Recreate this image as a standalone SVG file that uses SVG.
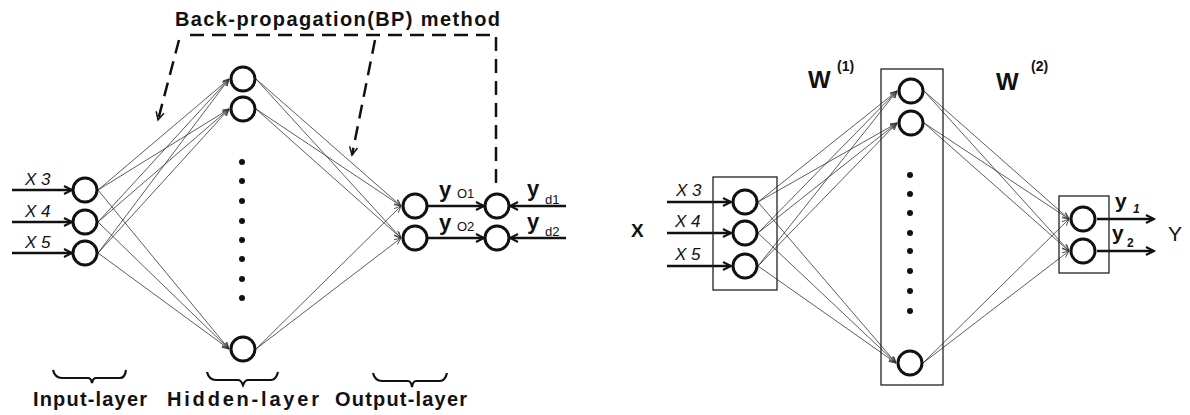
<svg xmlns="http://www.w3.org/2000/svg" width="1190" height="415" viewBox="0 0 1190 415">
<style>
.bg{fill:#ffffff}
.node{fill:#ffffff;stroke:#111;stroke-width:3}
.dot{fill:#111}
.conn{stroke:#333;stroke-width:0.8;fill:none;marker-end:url(#thin)}
.in{stroke:#111;stroke-width:2.5;fill:none;marker-end:url(#thick)}
.dash{stroke:#111;stroke-width:2.5;fill:none;stroke-dasharray:14 8}
.box{fill:none;stroke:#222;stroke-width:1.3}
.brace{fill:none;stroke:#111;stroke-width:2.2}
.lbl{font-family:"Liberation Sans",Arial,sans-serif;font-weight:bold;fill:#111}
.xi{font-family:"Liberation Sans",Arial,sans-serif;font-style:italic;font-size:17px;fill:#111}
.sub{font-family:"Liberation Sans",Arial,sans-serif;font-size:12px;fill:#111}
</style>
<defs>
<marker id="thin" markerUnits="userSpaceOnUse" markerWidth="8" markerHeight="8" refX="7" refY="3" orient="auto">
<path d="M0,0 L7,3 L0,6" fill="none" stroke="#333" stroke-width="0.8"/>
</marker>
<marker id="thick" markerUnits="userSpaceOnUse" markerWidth="12" markerHeight="12" refX="9" refY="5" orient="auto">
<path d="M1,1 L9,5 L1,9" fill="none" stroke="#111" stroke-width="2"/>
</marker>
<marker id="dashhead" markerUnits="userSpaceOnUse" markerWidth="12" markerHeight="12" refX="9" refY="5" orient="auto">
<path d="M1,1 L9,5 L1,9" fill="none" stroke="#111" stroke-width="1.5"/>
</marker>
</defs>
<rect class="bg" x="0" y="0" width="1190" height="415"/>

<g id="connectors">
<line class="conn" x1="98" y1="190" x2="229" y2="79"/>
<line class="conn" x1="98" y1="190" x2="229" y2="109"/>
<line class="conn" x1="98" y1="190" x2="229" y2="349"/>
<line class="conn" x1="98" y1="222" x2="229" y2="79"/>
<line class="conn" x1="98" y1="222" x2="229" y2="109"/>
<line class="conn" x1="98" y1="222" x2="229" y2="349"/>
<line class="conn" x1="98" y1="253" x2="229" y2="79"/>
<line class="conn" x1="98" y1="253" x2="229" y2="109"/>
<line class="conn" x1="98" y1="253" x2="229" y2="349"/>
<line class="conn" x1="256" y1="79" x2="401" y2="206"/>
<line class="conn" x1="256" y1="79" x2="401" y2="238"/>
<line class="conn" x1="256" y1="109" x2="401" y2="206"/>
<line class="conn" x1="256" y1="109" x2="401" y2="238"/>
<line class="conn" x1="256" y1="349" x2="401" y2="206"/>
<line class="conn" x1="256" y1="349" x2="401" y2="238"/>
<line class="in" x1="12" y1="190" x2="72" y2="190"/>
<line class="in" x1="12" y1="222" x2="72" y2="222"/>
<line class="in" x1="12" y1="253" x2="72" y2="253"/>
<line class="in" x1="428" y1="206" x2="484" y2="206"/>
<line class="in" x1="428" y1="238" x2="484" y2="238"/>
<line class="in" x1="566" y1="206" x2="510" y2="206"/>
<line class="in" x1="566" y1="238" x2="510" y2="238"/>
<path class="dash" d="M496,183 V35 H183"/>
<line class="dash" x1="179" y1="40" x2="158" y2="120" marker-end="url(#dashhead)"/>
<line class="dash" x1="375" y1="40" x2="352" y2="155" marker-end="url(#dashhead)"/>
<line class="conn" x1="758" y1="202" x2="897" y2="91"/>
<line class="conn" x1="758" y1="202" x2="897" y2="123"/>
<line class="conn" x1="758" y1="202" x2="896" y2="363"/>
<line class="conn" x1="758" y1="233" x2="897" y2="91"/>
<line class="conn" x1="758" y1="233" x2="897" y2="123"/>
<line class="conn" x1="758" y1="233" x2="896" y2="363"/>
<line class="conn" x1="758" y1="266" x2="897" y2="91"/>
<line class="conn" x1="758" y1="266" x2="897" y2="123"/>
<line class="conn" x1="758" y1="266" x2="896" y2="363"/>
<line class="conn" x1="924" y1="91" x2="1069" y2="219"/>
<line class="conn" x1="924" y1="91" x2="1069" y2="251"/>
<line class="conn" x1="924" y1="123" x2="1069" y2="219"/>
<line class="conn" x1="924" y1="123" x2="1069" y2="251"/>
<line class="conn" x1="923" y1="363" x2="1069" y2="219"/>
<line class="conn" x1="923" y1="363" x2="1069" y2="251"/>
<line class="in" x1="667" y1="202" x2="731" y2="202"/>
<line class="in" x1="667" y1="233" x2="731" y2="233"/>
<line class="in" x1="667" y1="266" x2="731" y2="266"/>
<line class="in" x1="1097" y1="219" x2="1154" y2="219"/>
<line class="in" x1="1097" y1="251" x2="1154" y2="251"/>
</g>

<text class="lbl" x="175" y="26" font-size="20" textLength="325" lengthAdjust="spacing">Back-propagation(BP) method</text>

<g id="in3"><circle class="node" cx="85" cy="190" r="12"/><text class="xi" x="25" y="185">X 3</text></g>
<g id="in4"><circle class="node" cx="85" cy="222" r="12"/><text class="xi" x="25" y="217">X 4</text></g>
<g id="in5"><circle class="node" cx="85" cy="253" r="12"/><text class="xi" x="25" y="248">X 5</text></g>

<g id="h1"><circle class="node" cx="243" cy="79" r="12"/></g>
<g id="h2"><circle class="node" cx="243" cy="109" r="12"/></g>
<g id="hdots">
<circle class="dot" cx="242" cy="162" r="3"/>
<circle class="dot" cx="242" cy="181" r="3"/>
<circle class="dot" cx="242" cy="201" r="3"/>
<circle class="dot" cx="242" cy="221" r="3"/>
<circle class="dot" cx="242" cy="240" r="3"/>
<circle class="dot" cx="242" cy="259" r="3"/>
<circle class="dot" cx="242" cy="279" r="3"/>
<circle class="dot" cx="242" cy="298" r="3"/>
</g>
<g id="h3"><circle class="node" cx="243" cy="349" r="12"/></g>

<g id="o1"><circle class="node" cx="415" cy="206" r="12"/>
<text class="lbl" x="439" y="197" font-size="22">y</text><text class="sub" x="457" y="198" font-size="13" style="font-size:13px">O1</text></g>
<g id="o2"><circle class="node" cx="415" cy="238" r="12"/>
<text class="lbl" x="439" y="230" font-size="22">y</text><text class="sub" x="457" y="231" style="font-size:13px">O2</text></g>
<g id="c1"><circle class="node" cx="497" cy="206" r="12"/>
<text class="lbl" x="527" y="196" font-size="22">y</text><text class="sub" x="545" y="204" style="font-size:13px">d1</text></g>
<g id="c2"><circle class="node" cx="497" cy="238" r="12"/>
<text class="lbl" x="527" y="229" font-size="22">y</text><text class="sub" x="545" y="236" style="font-size:13px">d2</text></g>

<g id="braces">
<path class="brace" d="M53,370 Q55,378 62,378 H88 Q91,378 92,383 Q93,378 96,378 H120 Q125,378 126,370"/>
<path class="brace" d="M207,372 Q209,380 216,380 H238 Q241,380 243,385 Q245,380 248,380 H271 Q276,380 278,372"/>
<path class="brace" d="M373,373 Q375,381 382,381 H408 Q411,381 412,387 Q413,381 416,381 H440 Q445,381 447,373"/>
</g>
<text class="lbl" x="33" y="406" font-size="20" textLength="114" lengthAdjust="spacing">Input-layer</text>
<text class="lbl" x="167" y="406" font-size="20" textLength="152" lengthAdjust="spacing">Hidden-layer</text>
<text class="lbl" x="335" y="406" font-size="20" textLength="132" lengthAdjust="spacing">Output-layer</text>

<text class="lbl" x="631" y="237" font-size="19">X</text>
<rect class="box" x="713" y="177" width="64" height="113"/>
<g id="r_in3"><circle class="node" cx="745" cy="202" r="12"/><text class="xi" x="676" y="196">X 3</text></g>
<g id="r_in4"><circle class="node" cx="745" cy="233" r="12"/><text class="xi" x="675" y="227">X 4</text></g>
<g id="r_in5"><circle class="node" cx="745" cy="266" r="12"/><text class="xi" x="675" y="260">X 5</text></g>

<text class="lbl" x="808" y="88" font-size="24">W</text>
<text class="lbl" x="837" y="71" font-size="14">(1)</text>
<text class="lbl" x="996" y="90" font-size="24">W</text>
<text class="lbl" x="1031" y="71" font-size="14">(2)</text>

<rect class="box" x="881" y="69" width="62" height="316"/>
<g id="r_h1"><circle class="node" cx="911" cy="91" r="12"/></g>
<g id="r_h2"><circle class="node" cx="911" cy="123" r="12"/></g>
<g id="r_hdots">
<circle class="dot" cx="910" cy="175" r="3"/>
<circle class="dot" cx="910" cy="194" r="3"/>
<circle class="dot" cx="910" cy="213" r="3"/>
<circle class="dot" cx="910" cy="233" r="3"/>
<circle class="dot" cx="910" cy="251" r="3"/>
<circle class="dot" cx="910" cy="271" r="3"/>
<circle class="dot" cx="910" cy="291" r="3"/>
<circle class="dot" cx="910" cy="311" r="3"/>
</g>
<g id="r_h3"><circle class="node" cx="910" cy="363" r="12"/></g>

<rect class="box" x="1059" y="196" width="50" height="77"/>
<g id="r_o1"><circle class="node" cx="1083" cy="219" r="12"/>
<text class="lbl" x="1115" y="208" font-size="21">y</text><text class="lbl" x="1133" y="213" font-size="12" font-style="italic">1</text></g>
<g id="r_o2"><circle class="node" cx="1083" cy="251" r="12"/>
<text class="lbl" x="1112" y="240" font-size="21">y</text><text class="lbl" x="1127" y="247" font-size="12">2</text></g>
<text class="sub" x="1168" y="241" style="font-size:21px">Y</text>
</svg>
